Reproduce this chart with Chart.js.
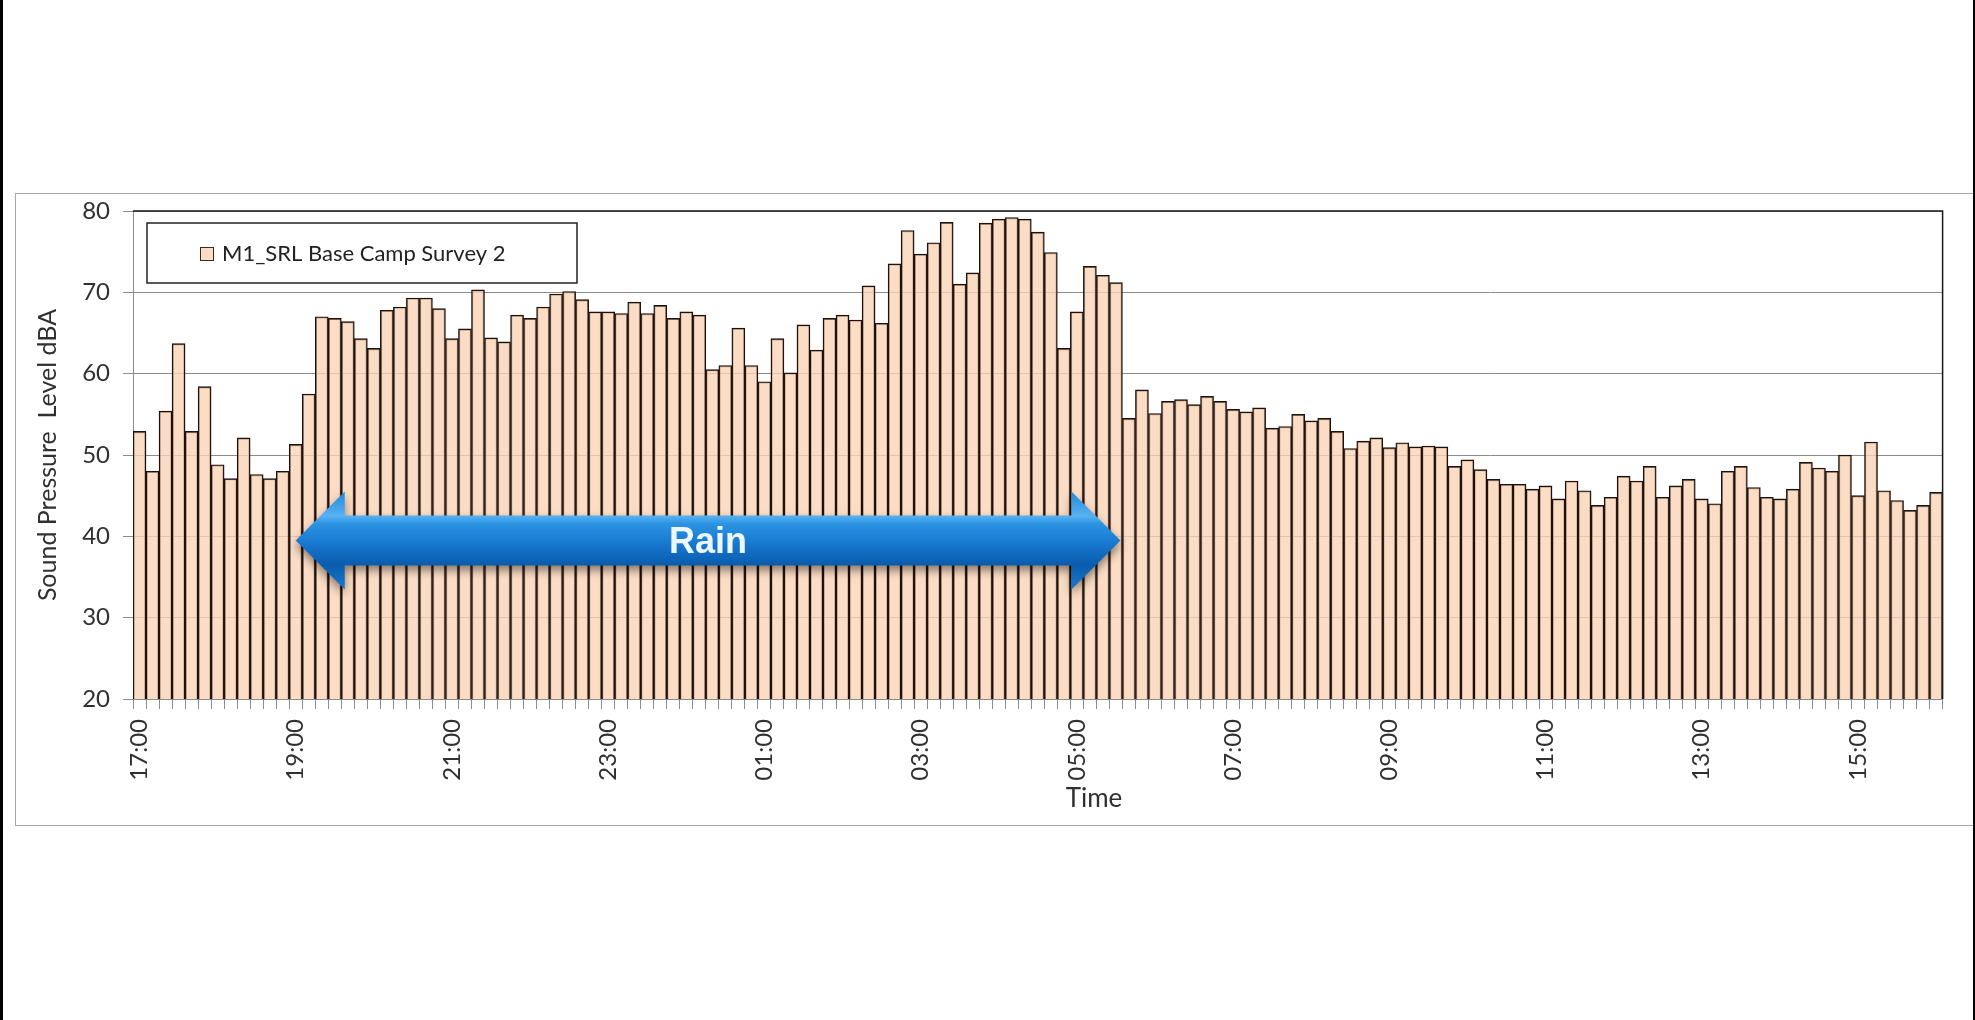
<!DOCTYPE html>
<html>
<head>
<meta charset="utf-8">
<script src="https://cdn.jsdelivr.net/npm/chart.js@4.4.1/dist/chart.umd.min.js"></script>
<style>
  body { margin: 0; background: #fff; }
</style>
</head>
<body>
<canvas id="myChart" width="1975" height="1020"></canvas>
<script>
// 10 minute readings, 17:00 to 16:00 next day
const startHour = 17
const stepMinutes = 10

const levels = [
    52.9, 48.0, 55.4, 63.7, 52.9, 58.4, 48.8, 47.1, 52.1, 47.6, 47.1, 48.0, 51.3, 57.5,
    67.0, 66.8, 66.4, 64.3, 63.1, 67.8, 68.2, 69.3, 69.3, 68.0, 64.3, 65.5, 70.3, 64.4,
    63.9, 67.2, 66.8, 68.2, 69.8, 70.1, 69.1, 67.6, 67.6, 67.4, 68.8, 67.4,
    68.4, 66.8, 67.6, 67.2, 60.5, 61.0, 65.6, 61.0, 59.0, 64.3, 60.1, 66.0, 62.9, 66.8,
    67.2, 66.6, 70.8, 66.2, 73.5, 77.6, 74.7, 76.1, 78.6,
    71.0, 72.4, 78.5, 79.0, 79.2, 79.0, 77.4, 74.9, 63.1, 67.6, 73.2, 72.1, 71.2, 54.5,
    58.0, 55.1, 56.6, 56.8, 56.2, 57.2, 56.6, 55.6, 55.3, 55.8, 53.3,
    53.5, 55.0, 54.2, 54.5, 52.9, 50.8, 51.7, 52.1, 50.9, 51.5, 51.0, 51.1, 51.0, 48.6,
    49.4, 48.2, 47.0, 46.4, 46.4, 45.8, 46.2, 44.6, 46.8,
    45.6, 43.8, 44.8, 47.4, 46.8, 48.6, 44.8, 46.2, 47.0, 44.6, 44.0, 48.0, 48.6, 46.0,
    44.8, 44.6, 45.8, 49.1, 48.4, 48.0, 50.0, 45.0, 51.6, 45.6, 44.4, 43.2, 43.8, 45.4
]

const tickLabels = ['17:00', '19:00', '21:00', '23:00', '01:00', '03:00', '05:00',
    '07:00', '09:00', '11:00', '13:00', '15:00']

const seriesName = 'M1_SRL Base Camp Survey 2'
const rainLabel = 'Rain'
const rainFrom = '19:00'
const rainTo = '05:30'
const rainLevel = 39.5

const times = []
for (let i = 0; i < levels.length; i++) {
    const m = (startHour * 60 + i * stepMinutes) % (24 * 60)
    const hh = String(Math.floor(m / 60)).padStart(2, '0')
    const mm = String(m % 60).padStart(2, '0')
    times.push(hh + ':' + mm)
}

const barFill = 'rgba(250, 210, 180, 0.78)'
const barEdge = '#1c110c'
const gridGrey = '#8c8c8c'
const textColor = '#303030'

Chart.defaults.font.family = 'Lato'
Chart.defaults.font.size = 24

const decorations = {
    id: 'decorations',
    beforeDraw(chart) {
        const ctx = chart.ctx
        ctx.save()
        ctx.fillStyle = '#fff'
        ctx.fillRect(0, 0, chart.width, chart.height)
        // outer chart frame
        ctx.strokeStyle = '#a6a6a6'
        ctx.lineWidth = 1
        ctx.strokeRect(15.5, 193.5, 1958, 632)
        ctx.fillStyle = '#000'
        ctx.fillRect(0, 0, 3, chart.height)
        ctx.fillRect(chart.width - 2, 0, 2, chart.height)
        ctx.restore()
    },
    afterDatasetsDraw(chart) {
        const ctx = chart.ctx
        const area = chart.chartArea
        const x = chart.scales.x
        const y = chart.scales.y
        ctx.save()

        // plot area border (top and right)
        ctx.strokeStyle = '#1a1a1a'
        ctx.lineWidth = 1.5
        ctx.beginPath()
        ctx.moveTo(area.left, area.top)
        ctx.lineTo(area.right, area.top)
        ctx.lineTo(area.right, area.bottom)
        ctx.stroke()

        // legend box
        const lx = area.left + 14, ly = area.top + 12
        ctx.fillStyle = '#fff'
        ctx.fillRect(lx, ly, 430, 60)
        ctx.strokeStyle = '#222'
        ctx.lineWidth = 1.5
        ctx.strokeRect(lx, ly, 430, 60)
        ctx.fillStyle = '#fcdcc4'
        ctx.fillRect(lx + 53, ly + 24, 13, 13)
        ctx.lineWidth = 1
        ctx.strokeStyle = '#3a2a20'
        ctx.strokeRect(lx + 53.5, ly + 24.5, 13, 13)
        ctx.fillStyle = '#222'
        ctx.font = '22px Lato'
        ctx.textAlign = 'left'
        ctx.textBaseline = 'middle'
        ctx.fillText(seriesName, lx + 75, ly + 31)

        // rain arrow
        const i1 = times.indexOf(rainFrom)
        const i2 = times.indexOf(rainTo)
        const x1 = x.getPixelForValue(i1)
        const x2 = x.getPixelForValue(i2 + 0.35)
        const yc = y.getPixelForValue(rainLevel)
        const shaft = 25, head = 49, headLen = 49

        ctx.beginPath()
        ctx.moveTo(x1, yc)
        ctx.lineTo(x1 + headLen, yc - head)
        ctx.lineTo(x1 + headLen, yc - shaft)
        ctx.lineTo(x2 - headLen, yc - shaft)
        ctx.lineTo(x2 - headLen, yc - head)
        ctx.lineTo(x2, yc)
        ctx.lineTo(x2 - headLen, yc + head)
        ctx.lineTo(x2 - headLen, yc + shaft)
        ctx.lineTo(x1 + headLen, yc + shaft)
        ctx.lineTo(x1 + headLen, yc + head)
        ctx.closePath()
        const g = ctx.createLinearGradient(0, yc - head, 0, yc + head)
        g.addColorStop(0, '#2186d8')
        g.addColorStop(0.25, '#58b2f2')
        g.addColorStop(0.33, '#2c93e3')
        g.addColorStop(0.55, '#1676cd')
        g.addColorStop(0.75, '#0a5cae')
        g.addColorStop(1, '#1a78cc')
        ctx.shadowColor = 'rgba(0, 0, 0, 0.45)'
        ctx.shadowBlur = 10
        ctx.shadowOffsetY = 5
        ctx.fillStyle = g
        ctx.fill()
        ctx.shadowColor = 'transparent'

        ctx.fillStyle = '#ecf7ff'
        ctx.font = 'bold 36px "Liberation Sans"'
        ctx.textAlign = 'center'
        ctx.textBaseline = 'middle'
        ctx.fillText(rainLabel, (x1 + x2) / 2, yc + 3)

        // x axis title
        ctx.fillStyle = textColor
        ctx.font = '26px Lato'
        ctx.fillText('Time', 1094, 799)
        ctx.restore()
    }
}

const ctx = document.getElementById('myChart').getContext('2d')

const barChart = new Chart(ctx, {
    type: 'bar',
    data: {
        labels: times,
        datasets: [{
            label: seriesName,
            data: levels,
            backgroundColor: barFill,
            borderColor: barEdge,
            borderWidth: 1.4,
            barPercentage: 1,
            categoryPercentage: 1
        }]
    },
    options: {
        responsive: false,
        animation: false,
        devicePixelRatio: 1,
        layout: {
            padding: { top: 211, right: 29, left: 0, bottom: 0 }
        },
        plugins: {
            legend: { display: false },
            tooltip: { enabled: false }
        },
        scales: {
            x: {
                offset: true,
                grid: {
                    offset: true,
                    drawOnChartArea: false,
                    tickLength: 10,
                    color: gridGrey
                },
                border: { color: gridGrey },
                ticks: {
                    autoSkip: false,
                    maxRotation: 90,
                    minRotation: 90,
                    padding: 10,
                    color: textColor,
                    callback: function (val, i) {
                        return tickLabels.includes(times[i]) ? times[i] : ''
                    }
                },
                afterFit: function (scale) {
                    scale.height = 321
                }
            },
            y: {
                min: 20,
                max: 80,
                ticks: {
                    stepSize: 10,
                    padding: 13,
                    color: textColor
                },
                grid: {
                    color: gridGrey,
                    tickLength: 10
                },
                border: { color: gridGrey },
                title: {
                    display: true,
                    text: 'Sound Pressure  Level dBA',
                    color: textColor,
                    font: { size: 25 },
                    padding: { top: 33, bottom: 0 }
                },
                afterFit: function (scale) {
                    scale.width = 133
                }
            }
        }
    },
    plugins: [decorations]
})
</script>
</body>
</html>
